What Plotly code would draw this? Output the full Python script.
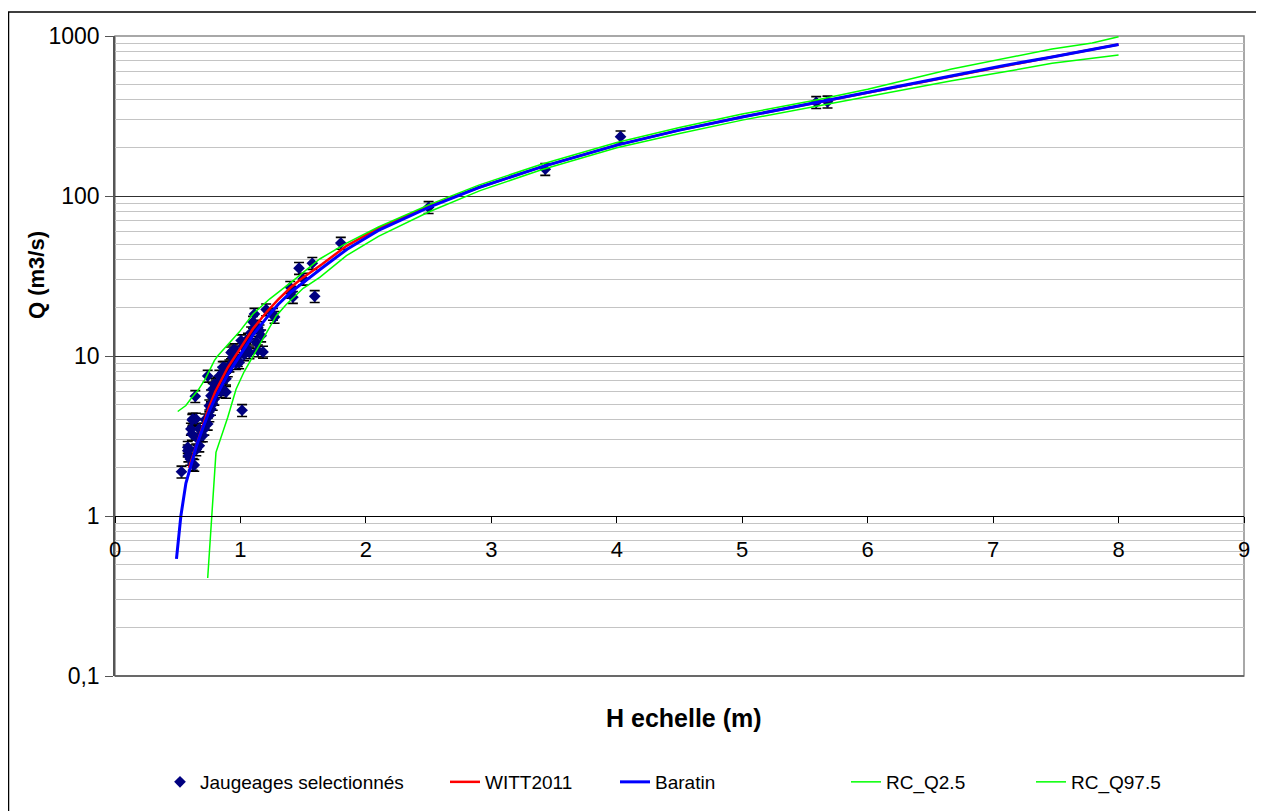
import plotly.graph_objects as go

# ---------------- data ----------------
jaug_h = [0.53, 0.58, 0.58, 0.585, 0.60, 0.62, 0.632, 0.605, 0.613, 0.616, 0.62, 0.645, 0.64, 0.648,
          0.66, 0.672, 0.672, 0.685, 0.70, 0.712, 0.72, 0.739, 0.739, 0.752, 0.752, 0.765, 0.765,
          0.779, 0.779, 0.779, 0.792, 0.792, 0.805, 0.818, 0.832, 0.845, 0.859, 0.859, 0.859, 0.872,
          0.885, 0.885, 0.899, 0.912, 0.925, 0.939, 0.939, 0.952, 0.965, 0.979, 0.99, 1.005, 1.013,
          1.019, 1.03, 1.045, 1.045, 1.06, 1.072, 1.085, 1.10, 1.112, 1.112, 1.125, 1.139, 1.139,
          1.152, 1.165, 1.18, 1.205, 1.259, 1.272, 1.397, 1.405, 1.418, 1.467, 1.50, 1.573, 1.592,
          1.80, 2.50, 3.43, 4.03, 5.59, 5.68]
jaug_q = [1.89, 2.69, 2.56, 2.38, 2.27, 2.11, 2.08, 3.5, 3.25, 3.98, 4.04, 4.04, 5.6, 2.6,
          3.03, 2.75, 3.5, 3.18, 3.18, 3.5, 4.0, 3.76, 7.5, 4.24, 4.89, 4.66, 5.65,
          5.01, 5.65, 6.2, 5.39, 6.68, 6.52, 6.8, 7.5, 6.0, 7.9, 6.2, 8.5, 8.5,
          5.95, 7.2, 8.1, 8.7, 10.5, 10.8, 9.8, 11.0, 9.0, 9.4, 9.1, 12.5, 4.58,
          11.5, 10.2, 11.3, 11.0, 12.8, 10.5, 14.0, 16.3, 15.1, 18.3, 12.2, 15.1, 10.8,
          14.4, 13.4, 10.6, 19.5, 18.3, 17.5, 26.9, 25.1, 23.3, 35.4, 30.3, 38.0, 23.6,
          50.8, 85.0, 147.0, 235.0, 385.0, 388.0]

witt_h = [0.59, 0.65, 0.70, 0.75, 0.80, 0.90, 1.0, 1.1, 1.2, 1.3, 1.4, 1.5, 1.65, 1.85, 2.1, 2.5,
          2.9, 3.4, 4.0, 4.5, 5.0, 5.6, 6.0, 6.67, 7.07, 7.47, 8.0]
witt_q = [2.0, 2.8, 3.7, 4.8, 6.0, 8.5, 11.2, 14.8, 18.5, 22.5, 26.8, 31.0, 37.5, 49.0, 63.0, 86.0,
          113, 152, 208, 258, 312, 385, 445, 565, 650, 740, 885]

bar_h = [0.49, 0.525, 0.565, 0.62, 0.65, 0.70, 0.75, 0.80, 0.90, 1.0, 1.1, 1.2, 1.3, 1.4, 1.5, 1.65,
         1.85, 2.1, 2.5, 2.9, 3.4, 4.0, 4.5, 5.0, 5.6, 6.0, 6.67, 7.07, 7.47, 8.0]
bar_q = [0.54, 1.0, 1.6, 2.3, 2.75, 3.55, 4.5, 5.5, 7.7, 10.2, 13.5, 17.0, 21.0, 25.0, 28.8, 35.5,
         46.5, 61.0, 85.0, 113, 152, 208, 258, 312, 385, 445, 565, 650, 740, 885]

q25_h = [0.50, 0.565, 0.605, 0.659, 0.72, 0.792, 0.818, 0.99, 1.10, 1.232, 1.418, 1.632, 1.85, 2.1,
         2.5, 2.9, 3.4, 4.0, 4.5, 5.0, 5.6, 6.0, 6.67, 7.07, 7.47, 7.79, 8.0]
q25_q = [4.5, 4.9, 5.4, 6.06, 7.2, 9.35, 10.0, 14.1, 18.3, 22.7, 29.5, 40.4, 51, 64,
         88, 117, 158, 216, 268, 325, 400, 465, 622, 718, 829, 904, 990]

q975_h = [0.739, 0.805, 0.899, 0.965, 1.03, 1.1, 1.2, 1.285, 1.365, 1.5, 1.632, 1.845, 2.1, 2.5,
          2.91, 3.4, 4.0, 4.5, 5.0, 5.6, 6.0, 6.67, 7.07, 7.47, 8.0]
q975_q = [0.41, 2.5, 4.14, 6.2, 8.0, 10.0, 13.8, 17.8, 21.0, 26.5, 31.0, 42.4, 56, 79.4,
          108, 146, 200, 246, 298, 365, 415, 526, 593, 675, 761]

y_tickvals = [0.1, 1, 10, 100, 1000]
y_ticktext = ["0,1", "1", "10", "100", "1000"]
x_tickvals = [0, 1, 2, 3, 4, 5, 6, 7, 8, 9]

# ---------------- figure ----------------
# page has an 8px body margin -> figure coordinates = page coordinates - 8
W, H = 1256, 803
L, R, T, B = 107, 20, 28, 135
pw, ph = W - L - R, H - T - B
PB = T + ph  # plot bottom (figure px)

def px(xf):
    return (xf - L) / pw

def py(yf):
    return (PB - yf) / ph

FONT = "Liberation Sans, Arial, sans-serif"
LEG_TOP = 755

fig = go.Figure()
fig.add_trace(go.Scatter(
    x=jaug_h, y=jaug_q, mode="markers", name="Jaugeages selectionnés", legend="legend",
    marker=dict(symbol="diamond", color="#000080", size=9),
    error_y=dict(type="percent", value=8.5, color="black", thickness=1.6, width=5),
))
fig.add_trace(go.Scatter(x=witt_h, y=witt_q, mode="lines", name="WITT2011", legend="legend2",
                         line=dict(color="#FF0000", width=2.5)))
fig.add_trace(go.Scatter(x=bar_h, y=bar_q, mode="lines", name="Baratin", legend="legend3",
                         line=dict(color="#0000FF", width=3)))
fig.add_trace(go.Scatter(x=q25_h, y=q25_q, mode="lines", name="RC_Q2.5", legend="legend4",
                         line=dict(color="#00FF00", width=1.5)))
fig.add_trace(go.Scatter(x=q975_h, y=q975_q, mode="lines", name="RC_Q97.5", legend="legend5",
                         line=dict(color="#00FF00", width=1.5)))

def leg(xf):
    return dict(orientation="h", xref="container", x=xf / W, xanchor="left",
                yref="container", y=1 - LEG_TOP / H, yanchor="top",
                font=dict(size=19, family=FONT, color="black"), itemwidth=30,
                bgcolor="rgba(0,0,0,0)", borderwidth=0)

fig.update_layout(
    width=W, height=H,
    margin=dict(l=L, r=R, t=T, b=B),
    paper_bgcolor="white", plot_bgcolor="white",
    font=dict(family=FONT, color="black", size=19),
    showlegend=True,
    legend=leg(152), legend2=leg(437), legend3=leg(607), legend4=leg(838), legend5=leg(1023),
    xaxis=dict(range=[0, 9], tickvals=x_tickvals, showgrid=False, zeroline=False,
               showline=True, linecolor="black", linewidth=1,
               ticks="outside", ticklen=6, tickcolor="black",
               anchor="free", position=0.25,
               tickfont=dict(size=22, family=FONT), ticklabelstandoff=8),
    yaxis=dict(type="log", range=[-1, 3], tickvals=y_tickvals, ticktext=y_ticktext,
               showgrid=True, gridcolor="#303030", gridwidth=1,
               minor=dict(dtick="D1", showgrid=True, gridcolor="#C4C4C4", gridwidth=1, ticks=""),
               showline=True, linecolor="#555555", linewidth=1.5, mirror=False,
               ticks="outside", ticklen=8, tickcolor="#555555", zeroline=False,
               tickfont=dict(size=23, family=FONT), ticklabelstandoff=1),
)

# plot-area border (top/right grey, bottom dark)
fig.add_shape(type="rect", xref="paper", yref="paper", x0=0, x1=1, y0=0, y1=1,
              line=dict(color="#8c8c8c", width=1.5), layer="below")
fig.add_shape(type="line", xref="paper", yref="paper", x0=0, x1=1, y0=0, y1=0,
              line=dict(color="#555555", width=1.5))
# outer chart frame
fig.add_shape(type="rect", xref="paper", yref="paper",
              x0=px(0.5), x1=px(W + 20), y0=py(H + 20), y1=py(4),
              line=dict(color="black", width=1.5))

# axis titles
fig.add_annotation(text="<b>H echelle (m)</b>", xref="paper", yref="paper",
                   x=px(676), y=py(710), showarrow=False,
                   font=dict(size=25, family=FONT), xanchor="center", yanchor="middle")
fig.add_annotation(text="<b>Q (m3/s)</b>", xref="paper", yref="paper",
                   x=px(28), y=py(267), showarrow=False, textangle=-90,
                   font=dict(size=22, family=FONT), xanchor="center", yanchor="middle")

fig.write_html("out.html")
